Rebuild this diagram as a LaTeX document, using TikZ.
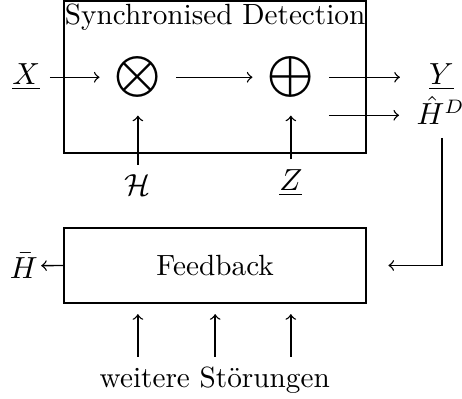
\documentclass[tikz,border=0pt]{standalone}
\usepackage{amsmath}
\usepackage{amssymb}
\usepackage{fontspec}
\usepackage{tikz}
\usetikzlibrary{positioning, shapes}

\begin{document}
\begin{tikzpicture}[font=\fontsize{10.5pt}{12.6pt}\selectfont, line width=0.5pt]
            \useasboundingbox (0, 0) rectangle (5.83, 5.035);

            \node[draw, line width=0.65pt, minimum width=3.81cm, minimum height=1.92cm] (sd) at (2.715, 4.065) {};
            \node[anchor=north, inner sep=1.2pt] (title) at (sd.north) {Synchronised Detection};
            \node[inner sep=0pt, minimum size=0.95cm] (mul) at (1.74, 4.06) {$\displaystyle\bigotimes$};
            \node[inner sep=0pt, minimum size=0.95cm] (add) at (3.67, 4.06) {$\displaystyle\bigoplus$};
            \node (x) at (0.33, 4.06) {$\underline{X}$};
            \node[minimum width=1.03cm, inner sep=1pt] (y) at (5.57, 4.06) {$\underline{Y}$};
            \node[minimum width=1.03cm, inner sep=1pt] (hd) at (5.56, 3.64) {$\hat{H}^D$};
            \coordinate (hdin) at (4.15, 3.58);
            \node (hcal) at (1.74, 2.70) {$\mathcal{H}$};
            \node (z) at (3.67, 2.73) {$\underline{Z}$};

            \node[draw, line width=0.65pt, minimum width=3.81cm, minimum height=0.946cm] (fb) at (2.715, 1.685) {Feedback};
            \node[inner sep=1pt] (hbar) at (0.30, 1.68) {$\bar{H}$};
            \node (noise) at (2.71, 0.24) {weitere Störungen};

            \draw[->] (x) -- (mul);
            \draw[->] (mul) -- (add);
            \draw[->] (add) -- (y);
            \draw[->] (hdin) -- (hdin -| hd.west);
            \draw[->] (hcal) -- (mul);
            \draw[->] (z) -- (add);
            \draw[->, shorten <=0.12cm, shorten >=0.27cm] ([xshift=0.02cm]hd.south) |- (fb.east);
            \draw[->] (fb.west) -- (hbar);
            \foreach \n in {mul, fb, add}
                \draw[->, shorten >=0.13cm] (noise.north -| \n) -- (fb.south -| \n);
        \end{tikzpicture}
\end{document}
